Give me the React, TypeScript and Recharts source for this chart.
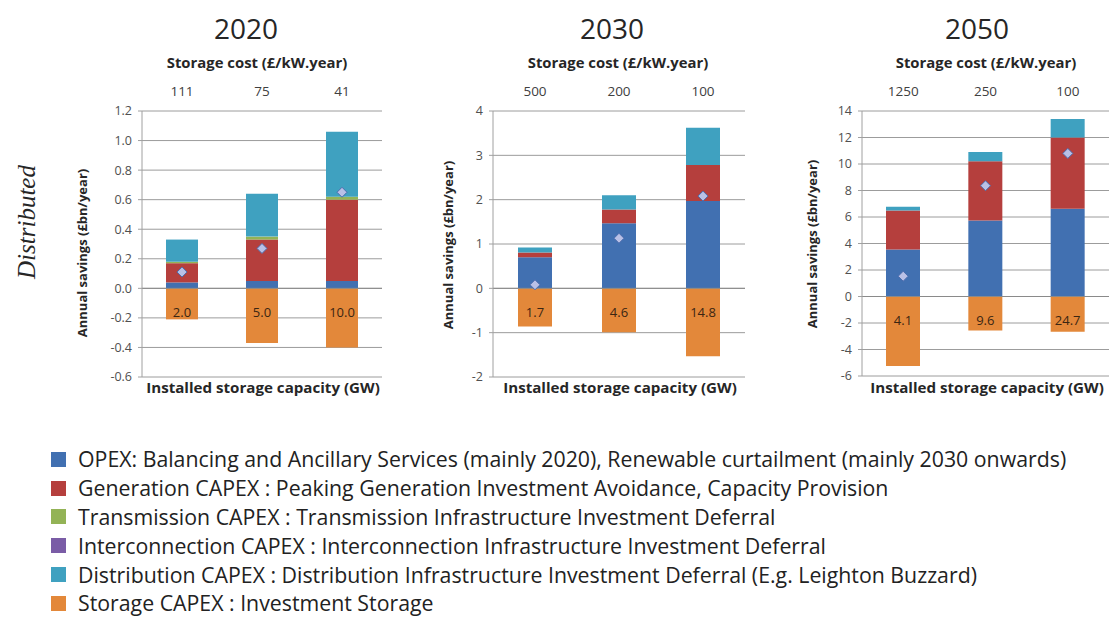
import React from 'react';
import {
    ComposedChart, Bar, Line, XAxis, YAxis, CartesianGrid,
    ReferenceLine, LabelList
} from 'recharts';

const FONT = '"Open Sans", "Noto Sans", sans-serif';

// legend / series definitions
const seriesKeys = ['opex', 'generation', 'transmission', 'interconnection', 'distribution', 'storage'];
const seriesNames = [
    'OPEX: Balancing and Ancillary Services (mainly 2020), Renewable curtailment (mainly 2030 onwards)',
    'Generation CAPEX : Peaking Generation Investment Avoidance, Capacity Provision',
    'Transmission CAPEX : Transmission Infrastructure Investment Deferral',
    'Interconnection CAPEX : Interconnection Infrastructure Investment Deferral',
    'Distribution CAPEX : Distribution Infrastructure Investment Deferral (E.g. Leighton Buzzard)',
    'Storage CAPEX : Investment Storage',
];
const seriesColors = ['#4170b1', '#b53f3d', '#93b356', '#7a5ca6', '#3fa1c0', '#e3883a'];

// 2020
const costs2020 = ['111', '75', '41'];
const capacity2020 = ['2.0', '5.0', '10.0'];
const opex2020 = [0.04, 0.05, 0.05];
const generation2020 = [0.13, 0.28, 0.55];
const transmission2020 = [0.01, 0.02, 0.02];
const interconnection2020 = [0, 0, 0];
const distribution2020 = [0.15, 0.29, 0.44];
const storage2020 = [-0.21, -0.37, -0.40];
const net2020 = [0.11, 0.27, 0.65];
const ticks2020 = [-0.6, -0.4, -0.2, 0, 0.2, 0.4, 0.6, 0.8, 1.0, 1.2];

// 2030
const costs2030 = ['500', '200', '100'];
const capacity2030 = ['1.7', '4.6', '14.8'];
const opex2030 = [0.70, 1.47, 1.97];
const generation2030 = [0.11, 0.31, 0.81];
const transmission2030 = [0, 0, 0];
const interconnection2030 = [0, 0, 0];
const distribution2030 = [0.11, 0.32, 0.84];
const storage2030 = [-0.86, -0.99, -1.53];
const net2030 = [0.08, 1.13, 2.08];
const ticks2030 = [-2, -1, 0, 1, 2, 3, 4];

// 2050
const costs2050 = ['1250', '250', '100'];
const capacity2050 = ['4.1', '9.6', '24.7'];
const opex2050 = [3.54, 5.73, 6.63];
const generation2050 = [2.96, 4.47, 5.37];
const transmission2050 = [0, 0, 0];
const interconnection2050 = [0, 0, 0];
const distribution2050 = [0.28, 0.70, 1.40];
const storage2050 = [-5.25, -2.56, -2.66];
const net2050 = [1.53, 8.36, 10.8];
const ticks2050 = [-6, -4, -2, 0, 2, 4, 6, 8, 10, 12, 14];

const buildRows = (costs, capacity, opex, generation, transmission, interconnection, distribution, storage, net) =>
    costs.map((c, i) => ({
        cost: c,
        capacity: capacity[i],
        opex: opex[i],
        generation: generation[i],
        transmission: transmission[i],
        interconnection: interconnection[i],
        distribution: distribution[i],
        storage: storage[i],
        net: net[i],
    }));

const panels = [
    {
        year: '2020', left: 60, width: 330, ml: 42, mr: 8, plotBottom: 377, decimals: 1,
        ticks: ticks2020, barSize: 32, titleX: 246, costX: 257, xlabelX: 263, ylabelX: 82, ylabelY: 253,
        rows: buildRows(costs2020, capacity2020, opex2020, generation2020, transmission2020, interconnection2020, distribution2020, storage2020, net2020),
    },
    {
        year: '2030', left: 410, width: 345, ml: 43, mr: 10, plotBottom: 377, decimals: 0,
        ticks: ticks2030, barSize: 34, titleX: 612, costX: 618, xlabelX: 620, ylabelX: 448, ylabelY: 245,
        rows: buildRows(costs2030, capacity2030, opex2030, generation2030, transmission2030, interconnection2030, distribution2030, storage2030, net2030),
    },
    {
        year: '2050', left: 780, width: 329, ml: 42, mr: 0, plotBottom: 376, decimals: 0,
        ticks: ticks2050, barSize: 34, titleX: 977, costX: 986, xlabelX: 987, ylabelX: 812, ylabelY: 244,
        rows: buildRows(costs2050, capacity2050, opex2050, generation2050, transmission2050, interconnection2050, distribution2050, storage2050, net2050),
    },
];

const CHART_H = 420;
const PLOT_TOP = 111;

const Diamond = (props) => {
    const { cx, cy } = props;
    if (cx == null || cy == null) return null;
    const r = 5;
    return (
        <polygon
            points={`${cx},${cy - r} ${cx + r},${cy} ${cx},${cy + r} ${cx - r},${cy}`}
            fill="#b9c0e6" stroke="#4a6cae" strokeWidth={1}
        />
    );
};

const CapacityLabel = (props) => {
    const { x, y, width, height, value } = props;
    const top = Math.min(y, y + height);
    return (
        <text x={x + width / 2} y={top + 25} textAnchor="middle" dominantBaseline="middle"
              fontSize={13} fontFamily={FONT} fill="#3b2612">{value}</text>
    );
};

const Txt = ({ x, y, children, style }) => (
    <div style={{
        position: 'absolute', left: x, top: y, transform: 'translate(-50%, -50%)',
        whiteSpace: 'nowrap', fontFamily: FONT, color: '#262626', ...style
    }}>{children}</div>
);

const Panel = ({ p }) => {
    const lo = p.ticks[0];
    const hi = p.ticks[p.ticks.length - 1];
    return (
        <>
            <div style={{ position: 'absolute', left: p.left, top: 0 }}>
                <ComposedChart
                    width={p.width}
                    height={CHART_H}
                    data={p.rows}
                    stackOffset="sign"
                    barSize={p.barSize}
                    margin={{ top: PLOT_TOP - 30, right: p.mr, bottom: CHART_H - p.plotBottom, left: p.ml }}
                >
                    <CartesianGrid vertical={false} stroke="#9c9c9c" />
                    <XAxis dataKey="capacity" hide />
                    <XAxis
                        dataKey="cost" xAxisId="top" orientation="top" height={30}
                        axisLine={false} tickLine={false} tickMargin={9}
                        tick={{ fontSize: 13.5, fill: '#404040', fontFamily: FONT }}
                    />
                    <YAxis
                        domain={[lo, hi]} ticks={p.ticks} width={40} interval={0}
                        axisLine={{ stroke: '#a0a0a0' }} tickLine={{ stroke: '#a0a0a0' }} tickSize={4} tickMargin={6}
                        tickFormatter={(v) => v.toFixed(p.decimals)}
                        tick={{ fontSize: 12.5, fill: '#505050', fontFamily: FONT }}
                    />
                    <ReferenceLine y={0} stroke="#8a8a8a" />
                    {seriesKeys.map((k, i) => (
                        <Bar key={k} dataKey={k} stackId="s" fill={seriesColors[i]} isAnimationActive={false}>
                            {k === 'storage' && <LabelList dataKey="capacity" content={<CapacityLabel />} />}
                        </Bar>
                    ))}
                    <Line dataKey="net" stroke="none" dot={<Diamond />} activeDot={false} isAnimationActive={false} />
                </ComposedChart>
            </div>
            <Txt x={p.titleX} y={28} style={{ fontSize: 28 }}>{p.year}</Txt>
            <Txt x={p.costX} y={63} style={{ fontSize: 13.5, fontWeight: 700, transform: 'translate(-50%, -50%) scaleX(1.1)' }}>
                Storage cost (£/kW.year)
            </Txt>
            <Txt x={p.xlabelX} y={388} style={{ fontSize: 13.5, fontWeight: 700, transform: 'translate(-50%, -50%) scaleX(1.12)' }}>
                Installed storage capacity (GW)
            </Txt>
            <Txt x={p.ylabelX} y={p.ylabelY} style={{ fontSize: 13, fontWeight: 700, transform: 'translate(-50%, -50%) rotate(-90deg)' }}>
                Annual savings (£bn/year)
            </Txt>
        </>
    );
};

export default function App() {
    return (
        <div style={{ position: 'absolute', left: 0, top: 0, width: 1109, height: 619, background: '#fff', overflow: 'hidden' }}>
            {panels.map((p) => <Panel key={p.year} p={p} />)}
            <Txt x={27} y={222} style={{ fontSize: 25, fontStyle: 'italic', fontFamily: '"Liberation Serif", "DejaVu Serif", serif', transform: 'translate(-50%, -50%) rotate(-90deg)' }}>
                Distributed
            </Txt>
            <div style={{ position: 'absolute', left: 51, top: 445, fontFamily: FONT, fontSize: 21.3, color: '#222' }}>
                {seriesNames.map((n, i) => (
                    <div key={n} style={{ display: 'flex', alignItems: 'center', height: 28.8 }}>
                        <span style={{ display: 'inline-block', width: 15, height: 15, background: seriesColors[i], marginRight: 12 }} />
                        <span style={{ whiteSpace: 'nowrap', lineHeight: '22px' }}>{n}</span>
                    </div>
                ))}
            </div>
        </div>
    );
}
